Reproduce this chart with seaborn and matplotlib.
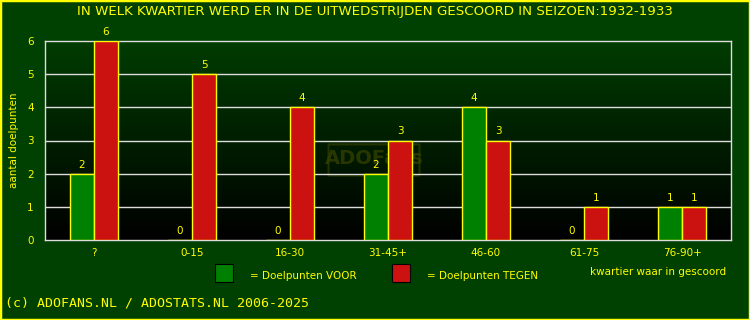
import numpy as np
import pandas as pd
import matplotlib
matplotlib.use("Agg")
import matplotlib.pyplot as plt
import seaborn as sns
from matplotlib.patches import Rectangle, FancyBboxPatch
from matplotlib.colors import LinearSegmentedColormap

categories = ["?", "0-15", "16-30", "31-45+", "46-60", "61-75", "76-90+"]
voor = [2, 0, 0, 2, 4, 0, 1]
tegen = [6, 5, 4, 3, 3, 1, 1]
series_names = ["Doelpunten VOOR", "Doelpunten TEGEN"]
title = "IN WELK KWARTIER WERD ER IN DE UITWEDSTRIJDEN GESCOORD IN SEIZOEN:1932-1933"

YELLOW = "#ffff00"
BG = "#004000"
GREEN = "#008000"
RED = "#cc1111"

df = pd.DataFrame({
    "kwartier": categories * 2,
    "doelpunten": voor + tegen,
    "soort": [series_names[0]] * len(categories) + [series_names[1]] * len(categories),
})

sns.set_theme(style="white")
plt.rcParams["font.family"] = ["DejaVu Sans"]

fig = plt.figure(figsize=(7.5, 3.2), dpi=100, facecolor=BG)
ax = fig.add_axes([45 / 750, 1 - 240 / 320, 686 / 750, 199 / 320])
ax.set_facecolor(BG)

# gradient background inside plot
cmap = LinearSegmentedColormap.from_list("g", ["#000000", "#003c00"])
grad = np.linspace(0, 1, 256).reshape(-1, 1)
ax.imshow(grad, aspect="auto", cmap=cmap, origin="lower",
          extent=[-0.5, len(categories) - 0.5, 0, 6], zorder=0)

sns.barplot(data=df, x="kwartier", y="doelpunten", hue="soort",
            palette=[GREEN, RED], saturation=1, width=0.49, gap=0, ax=ax,
            edgecolor=YELLOW, linewidth=1, legend=False, zorder=3)

ax.set_xlim(-0.5, len(categories) - 0.5)
ax.set_ylim(0, 6)
ax.set_yticks(range(0, 7))
for y in range(1, 6):
    ax.axhline(y, color="#dddddd", lw=1, zorder=2.5)

for sp in ax.spines.values():
    sp.set_color("#dddddd")
    sp.set_linewidth(1)
    sp.set_visible(True)

ax.tick_params(axis="both", colors=YELLOW, labelsize=7.5, length=0, pad=8)
ax.tick_params(axis="x", pad=6)
ax.set_xlabel("")
ax.set_ylabel("aantal doelpunten", color=YELLOW, fontsize=7.5, labelpad=6)

for cont in ax.containers:
    ax.bar_label(cont, color=YELLOW, fontsize=7.5, padding=3, zorder=5)

fig.text(0.5, 1 - 12 / 320, title, color=YELLOW, fontsize=9.6, ha="center", va="center")

# watermark (faint logo) behind the bars
ax.add_patch(FancyBboxPatch((330 / 750, 1 - 175 / 320), 88 / 750, 30 / 320,
                            boxstyle="round,pad=0.002", transform=fig.transFigure,
                            fill=False, edgecolor="#3a4400", lw=1.5, alpha=0.6, zorder=2))
ax.text(374 / 750, 1 - 159 / 320, "ADOFans", color="#3a4400", alpha=0.7, fontsize=14,
        fontweight="bold", ha="center", va="center", zorder=2, transform=fig.transFigure)

# legend
fig.patches.append(Rectangle((215 / 750, 1 - 282 / 320), 18 / 750, 18 / 320,
                             transform=fig.transFigure, facecolor=GREEN,
                             edgecolor="black", lw=0.8))
fig.text(250 / 750, 1 - 276 / 320, "= Doelpunten VOOR", color=YELLOW, fontsize=7.5, va="center")
fig.patches.append(Rectangle((392 / 750, 1 - 282 / 320), 18 / 750, 18 / 320,
                             transform=fig.transFigure, facecolor=RED,
                             edgecolor="black", lw=0.8))
fig.text(427 / 750, 1 - 276 / 320, "= Doelpunten TEGEN", color=YELLOW, fontsize=7.5, va="center")
fig.text(590 / 750, 1 - 272 / 320, "kwartier waar in gescoord", color=YELLOW, fontsize=7.5, va="center")

fig.text(5 / 750, 1 - 303 / 320, "(c) ADOFANS.NL / ADOSTATS.NL 2006-2025", color=YELLOW,
         fontsize=9.5, family="DejaVu Sans Mono", va="center")

fig.patches.append(Rectangle((0, 0), 1, 1, transform=fig.transFigure, fill=False,
                             edgecolor=YELLOW, lw=2.5))

fig.savefig("out.png", dpi=100, facecolor=BG)
